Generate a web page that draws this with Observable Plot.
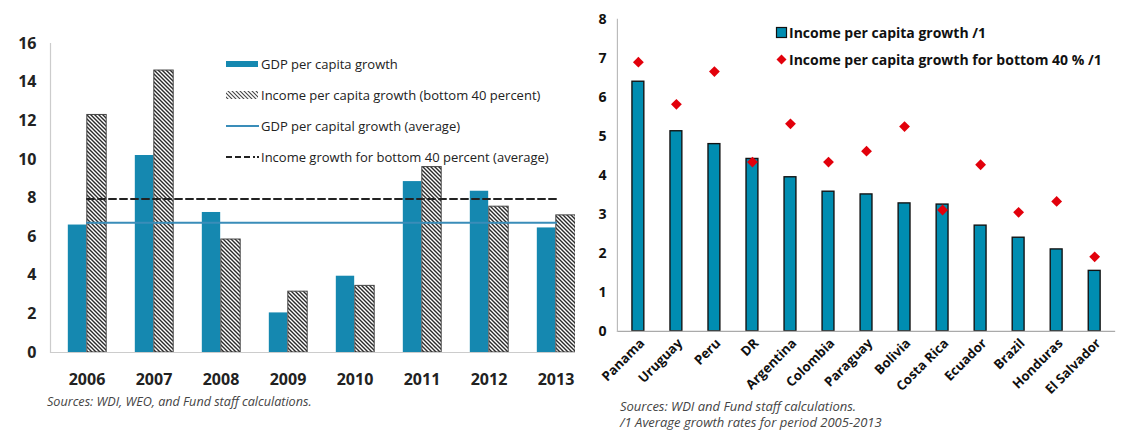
<!DOCTYPE html>
<html>
<head>
<meta charset="utf-8">
<script src="https://cdn.jsdelivr.net/npm/d3@7"></script>
<script src="https://cdn.jsdelivr.net/npm/@observablehq/plot@0.6"></script>
<style>
  html, body { margin: 0; padding: 0; background: #fff; overflow: hidden; }
  #wrap { position: relative; width: 1121px; height: 430px; overflow: hidden; font-family: "Open Sans", sans-serif; }
  #left { position: absolute; left: 0; top: 0; }
  #right { position: absolute; left: 575px; top: 0; background: #fff; }
  .cap { position: absolute; font-style: italic; color: #444; white-space: nowrap; }
  .lg { position: absolute; white-space: nowrap; }
  .lg .it { display: flex; align-items: center; }
  .lg svg { display: block; }
</style>
</head>
<body>
<div id="wrap">
  <div id="left"></div>
  <div id="right"></div>
  <div class="lg" id="leftLegend" style="left:225px; top:48px; font-size:13px; color:#222;"></div>
  <div class="lg" id="rightLegend" style="left:775px; top:19px; font-size:14px; font-weight:700; color:#111;"></div>
  <div class="cap" style="left:47px; top:393px; font-size:12.6px;">Sources: WDI, WEO, and Fund staff calculations.</div>
  <div class="cap" style="left:620px; top:397px; font-size:13px;">Sources: WDI and Fund staff calculations.</div>
  <div class="cap" style="left:620px; top:413px; font-size:13px;">/1 Average growth rates for period 2005-2013</div>
</div>
<script>
// ---------- Left chart data ----------
const years = ["2006", "2007", "2008", "2009", "2010", "2011", "2012", "2013"];
const gdpPerCapitaGrowth = [6.6, 10.2, 7.25, 2.05, 3.95, 8.85, 8.35, 6.45];
const incomeBottom40Growth = [12.3, 14.6, 5.85, 3.15, 3.45, 9.6, 7.55, 7.1];
const gdpAverage = 6.72;
const incomeBottom40Average = 7.95;
const leftTicks = [0, 2, 4, 6, 8, 10, 12, 14, 16];
const leftLegendLabels = [
  "GDP per capita growth",
  "Income per capita growth (bottom 40 percent)",
  "GDP per capital growth (average)",
  "Income growth for bottom 40 percent (average)"
];

// ---------- Right chart data ----------
const countries = ["Panama", "Uruguay", "Peru", "DR", "Argentina", "Colombia", "Paraguay", "Bolivia", "Costa Rica", "Ecuador", "Brazil", "Honduras", "El Salvador"];
const incomePerCapitaGrowth = [6.4, 5.13, 4.8, 4.42, 3.95, 3.58, 3.51, 3.28, 3.25, 2.71, 2.4, 2.1, 1.55];
const incomeBottom40 = [6.9, 5.82, 6.66, 4.34, 5.32, 4.34, 4.62, 5.25, 3.11, 4.27, 3.05, 3.33, 1.91];
const rightTicks = [0, 1, 2, 3, 4, 5, 6, 7, 8];
const rightLegendLabels = ["Income per capita growth /1", "Income per capita growth for bottom 40 % /1"];

const TEAL_L = "#1588B0";
const TEAL_R = "#008DB1";

// ---------- Left chart ----------
const leftData = years.map((y, i) => ({year: y, gdp: gdpPerCapitaGrowth[i], inc: incomeBottom40Growth[i]}));
const avgData = years.map(y => ({year: y, gdp: gdpAverage, inc: incomeBottom40Average}));
const LW = 600, LH = 400, LML = 50, LMR = 9;
const lbw = (LW - LML - LMR) / years.length;
const leftPlot = Plot.plot({
  width: LW, height: LH,
  marginLeft: LML, marginRight: LMR, marginTop: 43, marginBottom: 48,
  style: {fontFamily: "Open Sans, sans-serif", background: "transparent", overflow: "visible"},
  x: {domain: years, padding: 0, axis: null},
  y: {domain: [0, 16], axis: null},
  marks: [
    Plot.barY(leftData, {x: "year", y: "gdp", fill: TEAL_L, insetLeft: lbw / 2 - 19, insetRight: lbw / 2}),
    Plot.barY(leftData, {x: "year", y: "inc", fill: "url(#hatchL)", stroke: "#444", strokeWidth: 1, insetLeft: lbw / 2, insetRight: lbw / 2 - 20}),
    Plot.lineY(avgData, {x: "year", y: "gdp", stroke: "#3A8DB9", strokeWidth: 2}),
    Plot.lineY(avgData, {x: "year", y: "inc", stroke: "#222", strokeWidth: 2, strokeDasharray: "7,4"}),
    Plot.ruleY([0], {stroke: "#ccc", strokeWidth: 1.2}),
    Plot.frame({anchor: "left", stroke: "#ccc", strokeWidth: 1.2}),
    Plot.axisY(leftTicks, {label: null, tickSize: 0, tickPadding: 14, fontSize: 16, fontWeight: 700, fill: "#222"}),
    Plot.axisX({label: null, tickSize: 0, tickPadding: 21, fontSize: 16, fontWeight: 700, fill: "#222"})
  ]
});
d3.select(leftPlot).insert("defs", ":first-child").html(
  `<pattern id="hatchL" patternUnits="userSpaceOnUse" width="4" height="4">
     <rect width="4" height="4" fill="#fff"/>
     <path d="M-1,-1 L5,5 M-1,3 L1,5 M3,-1 L5,1" stroke="#2a2a2a" stroke-width="1.4"/>
   </pattern>`);
document.getElementById("left").appendChild(leftPlot);

// ---------- Right chart ----------
const rightData = countries.map((c, i) => ({country: c, inc: incomePerCapitaGrowth[i], b40: incomeBottom40[i]}));
const RW = 560, RML = 43, RMR = 6;
const rbw = (RW - RML - RMR) / countries.length;
const rightPlot = Plot.plot({
  width: RW, height: 400,
  marginLeft: RML, marginRight: RMR, marginTop: 19.3, marginBottom: 60.7,
  style: {fontFamily: "Open Sans, sans-serif", background: "#fff", overflow: "visible"},
  x: {domain: countries, padding: 0, axis: null},
  y: {domain: [0, 8], axis: null},
  marks: [
    Plot.barY(rightData, {x: "country", y: "inc", fill: TEAL_R, stroke: "#111", strokeWidth: 1.4, insetLeft: (rbw - 12.5) / 2, insetRight: (rbw - 12.5) / 2}),
    Plot.dot(rightData, {x: "country", y: "b40", symbol: "diamond2", r: 5, fill: "#E2000B", stroke: "none"}),
    Plot.ruleY([0], {stroke: "#aaa", strokeWidth: 1.2}),
    Plot.frame({anchor: "left", stroke: "#bbb", strokeWidth: 1.2}),
    Plot.axisY(rightTicks, {label: null, tickSize: 0, tickPadding: 11, fontSize: 14.5, fontWeight: 700, fill: "#111"}),
    Plot.axisX({label: null, tickSize: 0, tickPadding: 10, tickRotate: -45, fontSize: 13.5, fontWeight: 700, fill: "#111", dx: 4})
  ]
});
document.getElementById("right").appendChild(rightPlot);

// ---------- Legends ----------
const ll = d3.select("#leftLegend");
const swL = [
  `<rect x="1" y="4" width="32" height="6" fill="${TEAL_L}"/>`,
  `<defs><pattern id="hatchS" patternUnits="userSpaceOnUse" width="4" height="4"><rect width="4" height="4" fill="#fff"/><path d="M-1,-1 L5,5 M-1,3 L1,5 M3,-1 L5,1" stroke="#444" stroke-width="1.1"/></pattern></defs><rect x="1" y="3" width="32" height="8" fill="url(#hatchS)"/>`,
  `<line x1="1" x2="34" y1="7" y2="7" stroke="#3A8DB9" stroke-width="2"/>`,
  `<line x1="1" x2="30" y1="7" y2="7" stroke="#222" stroke-width="2" stroke-dasharray="6,3"/><line x1="32" x2="34" y1="7" y2="7" stroke="#222" stroke-width="2"/>`
];
leftLegendLabels.forEach((lab, i) => {
  const it = ll.append("div").attr("class", "it").style("height", "31px");
  it.append("svg").attr("width", 35).attr("height", 14).html(swL[i]);
  it.append("span").style("margin-left", "1px").text(lab);
});
const rl = d3.select("#rightLegend");
const swR = [
  `<rect x="1.5" y="1.5" width="10" height="10" fill="${TEAL_R}" stroke="#111" stroke-width="1.2"/>`,
  `<path d="M6.5,1.5 L11.5,6.5 L6.5,11.5 L1.5,6.5Z" fill="#E2000B"/>`
];
rightLegendLabels.forEach((lab, i) => {
  const it = rl.append("div").attr("class", "it").style("height", "27px");
  it.append("svg").attr("width", 13).attr("height", 13).html(swR[i]);
  it.append("span").style("margin-left", "1px").text(lab);
});
</script>
</body>
</html>
